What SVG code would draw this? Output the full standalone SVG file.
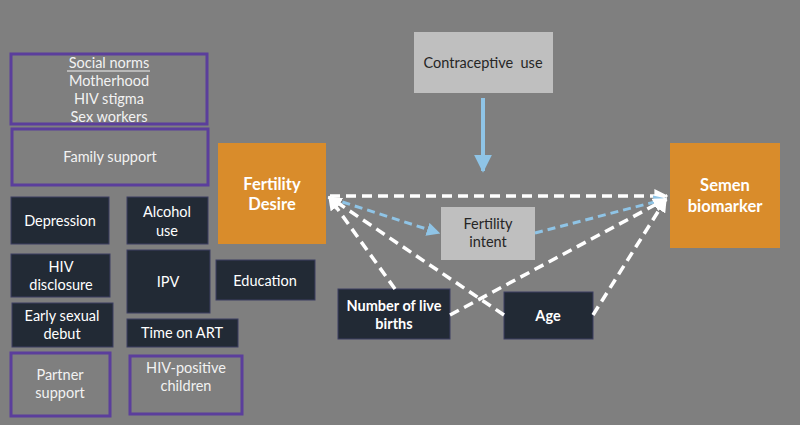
<svg xmlns="http://www.w3.org/2000/svg" width="800" height="425" viewBox="0 0 800 425">
<defs>
<style>
.bg{fill:#7f7f7f}
.pur{fill:none;stroke:#5b3e9c;stroke-width:3}
.dk{fill:#222a35;stroke:#3c3f63;stroke-width:1}
.or{fill:#d98c2b}
.lg{fill:#bfbfbf}
text{font-family:Lato,"Open Sans","Liberation Sans",sans-serif;text-anchor:middle}
.w{fill:#ffffff;font-size:14.5px}
.wl{fill:#f2f2f2;font-size:14.5px}
.wb{fill:#ffffff;font-size:14.5px;font-weight:bold}
.ob{fill:#ffffff;font-size:16.5px;font-weight:bold}
.d{fill:#262626;font-size:14.5px}
.wd{fill:none;stroke:#ffffff;stroke-width:3.5;stroke-dasharray:10,6}
.bd{fill:none;stroke:#8fc4e6;stroke-width:3;stroke-dasharray:8,5}
</style>
<marker id="aw" viewBox="0 0 10 10" refX="9" refY="5" markerWidth="4" markerHeight="4" orient="auto" markerUnits="strokeWidth"><path d="M0,0 L10,5 L0,10 z" fill="#ffffff"/></marker>
<marker id="ab" viewBox="0 0 10 10" refX="9" refY="5" markerWidth="4.5" markerHeight="4.5" orient="auto" markerUnits="strokeWidth"><path d="M0,0 L10,5 L0,10 z" fill="#8fc4e6"/></marker>
</defs>
<rect class="bg" x="0" y="0" width="800" height="425"/>

<g id="social-norms"><rect class="pur" x="11" y="54" width="196" height="70"/>
<text class="wl" x="109" y="68">Social norms</text><line x1="67" y1="71" x2="150" y2="71" stroke="#f2f2f2" stroke-width="1"/>
<text class="wl" x="109" y="86">Motherhood</text><text class="wl" x="109" y="104">HIV stigma</text><text class="wl" x="109" y="122">Sex workers</text></g>
<g id="family-support"><rect class="pur" x="12" y="129" width="196" height="56"/><text class="wl" x="110" y="162">Family support</text></g>
<g id="depression"><rect class="dk" x="11" y="197" width="98" height="47"/><text class="w" x="60" y="226">Depression</text></g>
<g id="alcohol"><rect class="dk" x="127" y="197" width="81" height="47"/><text class="w" x="167" y="217">Alcohol</text><text class="w" x="167" y="236">use</text></g>
<g id="hiv-disclosure"><rect class="dk" x="11" y="254" width="99" height="43"/><text class="w" x="61" y="272">HIV</text><text class="w" x="61" y="290">disclosure</text></g>
<g id="ipv"><rect class="dk" x="127" y="250" width="83" height="63"/><text class="w" x="168" y="287">IPV</text></g>
<g id="education"><rect class="dk" x="216" y="260" width="99" height="40"/><text class="w" x="265" y="286">Education</text></g>
<g id="early-sexual-debut"><rect class="dk" x="12" y="303" width="101" height="44"/><text class="w" x="62" y="321">Early sexual</text><text class="w" x="62" y="339">debut</text></g>
<g id="time-on-art"><rect class="dk" x="127" y="319" width="111" height="28"/><text class="w" x="182" y="338">Time on ART</text></g>
<g id="partner-support"><rect class="pur" x="11" y="353" width="99" height="63"/><text class="wl" x="60" y="380">Partner</text><text class="wl" x="60" y="398">support</text></g>
<g id="hiv-positive-children"><rect class="pur" x="130" y="356" width="112" height="58"/><text class="wl" x="186" y="373">HIV-positive</text><text class="wl" x="186" y="391">children</text></g>

<g id="fertility-desire"><rect class="or" x="218" y="143" width="108" height="101"/><text class="ob" x="272" y="190">Fertility</text><text class="ob" x="272" y="210">Desire</text></g>
<g id="contraceptive-use"><rect class="lg" x="414" y="32" width="139" height="61"/><text class="d" x="483" y="68">Contraceptive&#160; use</text></g>
<g id="fertility-intent"><rect class="lg" x="441" y="207" width="94" height="53"/><text class="d" x="488" y="229">Fertility</text><text class="d" x="488" y="247">intent</text></g>
<g id="semen-biomarker"><rect class="or" x="670" y="143" width="110" height="105"/><text class="ob" x="725" y="191">Semen</text><text class="ob" x="725" y="212">biomarker</text></g>
<g id="live-births"><rect class="dk" x="338" y="289" width="112" height="50"/><text class="wb" x="394" y="311">Number of live</text><text class="wb" x="394" y="329">births</text></g>
<g id="age"><rect class="dk" x="504" y="292" width="89" height="47"/><text class="wb" x="548" y="321">Age</text></g>

<g id="connectors">
<line x1="483" y1="98" x2="483" y2="171" stroke="#8fc4e6" stroke-width="4" marker-end="url(#ab)"/>
<line class="wd" x1="330" y1="196" x2="667" y2="196" marker-end="url(#aw)"/>
<line class="bd" x1="330" y1="198" x2="439" y2="233" marker-end="url(#ab)"/>
<line class="bd" x1="535" y1="233" x2="666" y2="199" marker-end="url(#ab)"/>
<line class="wd" x1="395" y1="289" x2="329" y2="197" marker-end="url(#aw)"/>
<line class="wd" x1="504" y1="315" x2="329" y2="197" marker-end="url(#aw)"/>
<line class="wd" x1="450" y1="315" x2="666" y2="199" marker-end="url(#aw)"/>
<line class="wd" x1="593" y1="315" x2="666" y2="199" marker-end="url(#aw)"/>
</g>
</svg>
